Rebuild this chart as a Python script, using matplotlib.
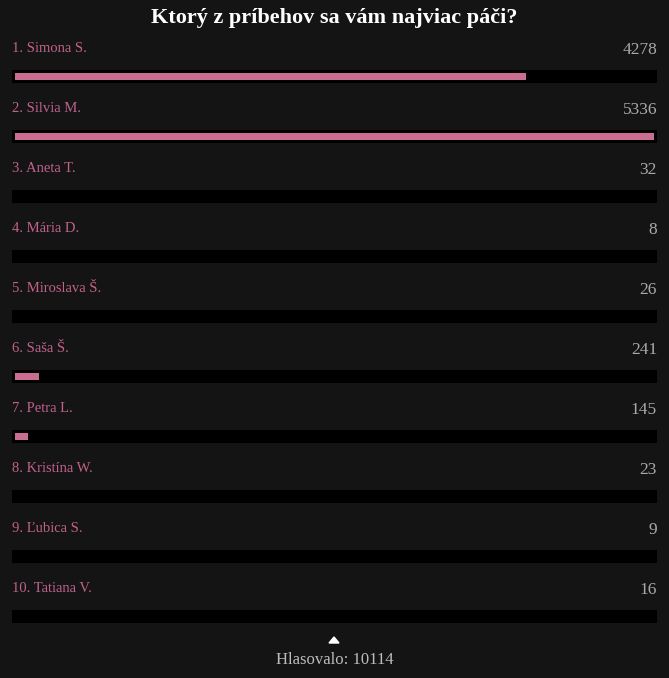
import matplotlib
matplotlib.use("Agg")
import matplotlib.pyplot as plt
from matplotlib.patches import Polygon

title = "Ktorý z príbehov sa vám najviac páči?"
names = ["1. Simona S.", "2. Silvia M.", "3. Aneta T.", "4. Mária D.", "5. Miroslava Š.",
         "6. Saša Š.", "7. Petra L.", "8. Kristína W.", "9. Ľubica S.", "10. Tatiana V."]
votes = [4278, 5336, 32, 8, 26, 241, 145, 23, 9, 16]
footer_label = "Hlasovalo"

BG = "#141414"
PINK = "#c96e91"
LABEL = "#c0628a"
NUM = "#a9a9a9"
W, H = 669, 678

plt.rcParams['font.family'] = ['Liberation Serif', 'DejaVu Serif']
fig = plt.figure(figsize=(W / 100, H / 100), dpi=100, facecolor=BG)

# text / overlay axes in pixel coords
tax = fig.add_axes([0, 0, 1, 1])
tax.set_xlim(0, W)
tax.set_ylim(H, 0)
tax.axis("off")
tax.set_facecolor(BG)

ys = [76 + 60 * i for i in range(len(votes))]

# track axes (black rails) spanning pixels 12..657
kax = fig.add_axes([12 / W, 0, (657 - 12) / W, 1])
kax.set_xlim(0, 1)
kax.set_ylim(H, 0)
kax.axis("off")
kax.patch.set_alpha(0)
kax.barh(ys, [1] * len(votes), height=13, color="#000000")

# fill axes: visible region 15..654 px, value 0 at px 10, max at px 654
vmax = max(votes)
x0_px, left_px, right_px = 10, 15, 654
bax = fig.add_axes([left_px / W, 0, (right_px - left_px) / W, 1])
lo = (left_px - x0_px) / (right_px - x0_px) * vmax
bax.set_xlim(lo, vmax)
bax.set_ylim(H, 0)
bax.axis("off")
bax.patch.set_alpha(0)
bax.barh(ys, votes, height=7, color=PINK)

tax.text(W / 2, 18, title, ha="center", va="center", color="white",
         fontsize=16, fontweight="bold")
for i, (n, v) in enumerate(zip(names, votes)):
    y = 48 + 60 * i
    tax.text(12, y, n, ha="left", va="center", color=LABEL, fontsize=10.5)
    tax.text(657, y + 2, str(v), ha="right", va="center", color=NUM, fontsize=12.5)

tax.add_patch(Polygon([[329, 643], [339, 643], [334, 637]], closed=True, color="white"))
tax.text(W / 2, 660, f"{footer_label}: {sum(votes)}", ha="center", va="center",
         color="#bdbdbd", fontsize=12)

fig.savefig("out.png", dpi=100, facecolor=BG)
